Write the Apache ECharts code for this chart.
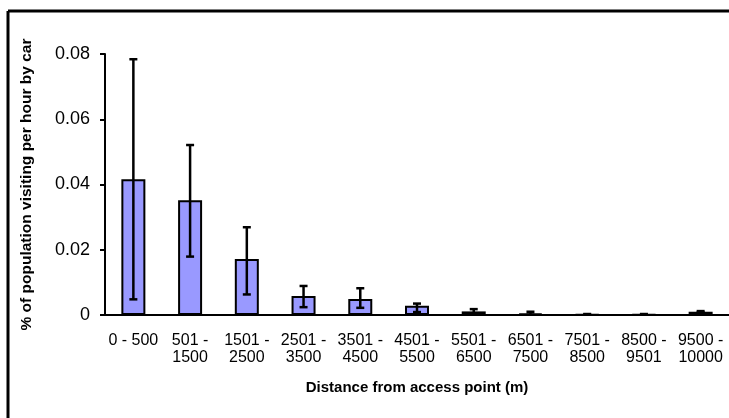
<!DOCTYPE html>
<html>
<head>
<meta charset="utf-8">
<script src="https://cdn.jsdelivr.net/npm/echarts@6/dist/echarts.min.js"></script>
<style>
	html, body { margin: 0; padding: 0; background: #fff; }
	#chart { width: 729px; height: 418px; }
</style>
</head>
<body>
<div id="chart"></div>
<script>
// 类目 (distance bands)
var categories = ['0 - 500', '501 -\n1500', '1501 -\n2500', '2501 -\n3500', '3501 -\n4500', '4501 -\n5500',
	'5501 -\n6500', '6501 -\n7500', '7501 -\n8500', '8500 -\n9501', '9500 -\n10000'];
// 平均值
var meanValues = [0.0416, 0.0352, 0.0172, 0.0058, 0.0049, 0.0028, 0.0011, 0.0004, 0.0002, 0.0002, 0.0010];
// 误差上下限
var upperValues = [0.0784, 0.0521, 0.0269, 0.0089, 0.0082, 0.0035, 0.0018, 0.0010, 0.0003, 0.0003, 0.0012];
var lowerValues = [0.0048, 0.0179, 0.0063, 0.0024, 0.0022, 0.0009, 0.0005, 0.0001, 0.0001, 0.0001, 0.0008];
var yTicks = [0, 0.02, 0.04, 0.06, 0.08];

var errorData = [];
for (var i = 0; i < categories.length; i++) {
	errorData.push([i, lowerValues[i], upperValues[i]]);
}

var myChart = echarts.init(document.getElementById('chart'));
var option = {
	animation: false,
	grid: {left: 105, top: 54, width: 624, height: 261},
	// 外框 (only top and left edges are visible)
	graphic: [
		{type: 'line', shape: {x1: 8, y1: 11, x2: 729, y2: 11}, style: {stroke: '#000', lineWidth: 3}},
		{type: 'line', shape: {x1: 8, y1: 11, x2: 8, y2: 418}, style: {stroke: '#000', lineWidth: 3}}
	],
	xAxis: {
		type: 'category',
		data: categories,
		name: 'Distance from access point (m)',
		nameLocation: 'middle',
		nameGap: 65,
		nameTextStyle: {fontFamily: 'Liberation Sans', fontSize: 15, fontWeight: 'bold', color: '#000'},
		axisLine: {lineStyle: {color: '#000', width: 2}},
		axisTick: {lineStyle: {color: '#000', width: 2}, length: 5},
		axisLabel: {interval: 0, color: '#000', fontFamily: 'Liberation Sans', fontSize: 16, lineHeight: 17, margin: 17}
	},
	yAxis: {
		type: 'value',
		min: 0,
		max: 0.08,
		interval: 0.02,
		name: '% of population visiting per hour by car',
		nameLocation: 'middle',
		nameGap: 70,
		nameTextStyle: {fontFamily: 'Liberation Sans', fontSize: 15.5, fontWeight: 'bold', color: '#000'},
		splitLine: {show: false},
		axisLine: {show: true, lineStyle: {color: '#000', width: 2}},
		axisTick: {show: true, lineStyle: {color: '#000', width: 2}, length: 5},
		axisLabel: {
			color: '#000', fontFamily: 'Liberation Sans', fontSize: 18, margin: 15,
			formatter: function(v) {
				for (var k = 0; k < yTicks.length; k++) {
					if (Math.abs(v - yTicks[k]) < 1e-9) return String(yTicks[k]);
				}
				return '';
			}
		}
	},
	series: [
		{
			type: 'bar',
			data: meanValues,
			barWidth: 24,
			itemStyle: {color: '#9999ff', borderColor: '#000', borderWidth: 2}
		},
		{
			// 误差线
			type: 'custom',
			data: errorData,
			z: 10,
			renderItem: function(params, api) {
				var idx = api.value(0);
				var lo = api.coord([idx, api.value(1)]);
				var hi = api.coord([idx, api.value(2)]);
				var hw = 4;
				var st = {stroke: '#000', lineWidth: 2.5};
				return {
					type: 'group',
					children: [
						{type: 'line', shape: {x1: hi[0], y1: hi[1], x2: lo[0], y2: lo[1]}, style: st},
						{type: 'line', shape: {x1: hi[0] - hw, y1: hi[1], x2: hi[0] + hw, y2: hi[1]}, style: st},
						{type: 'line', shape: {x1: lo[0] - hw, y1: lo[1], x2: lo[0] + hw, y2: lo[1]}, style: st}
					]
				};
			}
		}
	]
};
myChart.setOption(option);
</script>
</body>
</html>
